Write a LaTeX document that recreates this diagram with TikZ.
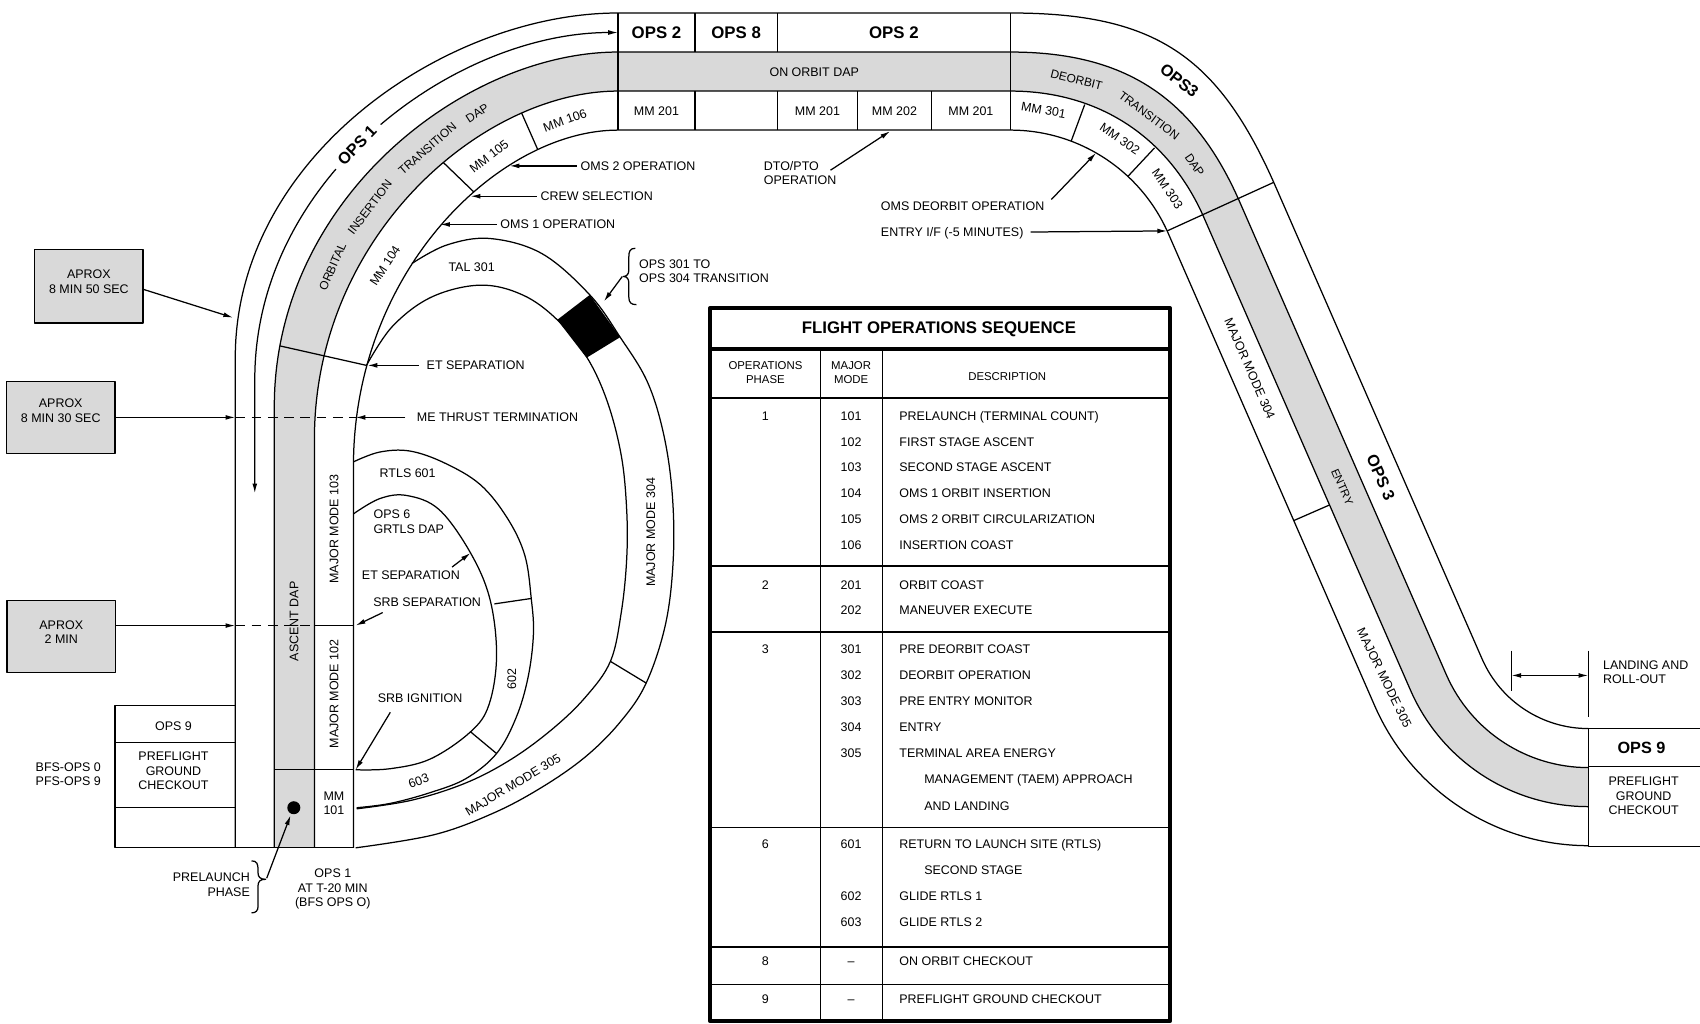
\documentclass[tikz,border=0pt]{standalone}
\usepackage{fontspec}
\setmainfont{Liberation Sans}
\usetikzlibrary{arrows.meta}
\definecolor{bandgray}{gray}{0.85}
\begin{document}
\begin{tikzpicture}[x=1pt,y=-1pt, line width=1.15pt, line join=round,
  lab/.style={font=\fontsize{11.5}{13.5}\selectfont, inner sep=0pt, align=center},
  labl/.style={font=\fontsize{11.5}{13.5}\selectfont, inner sep=0pt, align=left},
  lab1/.style={font=\fontsize{11.5}{13.5}\selectfont, inner sep=0pt, text height=8.3pt, text depth=0pt},
  band/.style={font=\fontsize{11}{12}\selectfont, inner sep=0pt, text height=8pt, text depth=0pt},
  big/.style={font=\fontsize{15.5}{17}\selectfont\bfseries, inner sep=0pt, text height=11.2pt, text depth=0pt},
  arr/.style={-{Latex[length=9pt,width=4.5pt]}},
  dsh/.style={dash pattern=on 9pt off 6pt},
  aprox/.style={draw, fill=bandgray, minimum width=100pt, inner sep=0pt}]
\useasboundingbox (0,0) rectangle (1568,944);

% ---------------- gray DAP band ----------------
\fill[bandgray] (253,782) -- (253,375) .. controls (253,184) and (428.3,48) .. (570,48) -- (932,48) .. controls (1037.5,48) and (1101.3,89.7) .. (1143.5,186.4) -- (1334.0,622.3) .. controls (1356.8,674.4) and (1408.2,708) .. (1465,708) -- (1465,744) .. controls (1393.8,744) and (1329.5,701.9) .. (1301.0,636.7) -- (1110.5,200.8) .. controls (1077.9,126.3) and (1013.3,84) .. (932,84) -- (570,84) .. controls (444.8,84) and (290,217.5) .. (290,405) -- (290,782) -- cycle;

% ---------------- track lines ----------------
\draw (217,782) -- (217,330) .. controls (217,144.3) and (412.2,12) .. (570,12) -- (932,12) .. controls (1064.6,12) and (1123.4,50.5) .. (1176.5,172.0) -- (1367.0,607.8) .. controls (1384.0,646.8) and (1422.5,672) .. (1465,672);
\draw (253,782) -- (253,375) .. controls (253,184) and (428.3,48) .. (570,48) -- (932,48) .. controls (1037.5,48) and (1101.3,89.7) .. (1143.5,186.4) -- (1334.0,622.3) .. controls (1356.8,674.4) and (1408.2,708) .. (1465,708);
\draw (290,782) -- (290,405) .. controls (290,217.5) and (444.8,84) .. (570,84) -- (932,84) .. controls (1013.3,84) and (1077.9,126.3) .. (1110.5,200.8) -- (1301.0,636.7) .. controls (1329.5,701.9) and (1393.8,744) .. (1465,744);
\draw (326,782) -- (326,430) .. controls (326,249) and (461,120) .. (570,120) -- (932,120) .. controls (995.1,120) and (1052.2,157.4) .. (1077.5,215.2) -- (1268.0,651.1) .. controls (1302.2,729.4) and (1379.5,780) .. (1465,780);

% OPS 1 arrow line
\draw[{Latex[length=9pt,width=4.5pt]}-{Latex[length=9pt,width=4.5pt]}] (235,455) -- (235,350) .. controls (235,163.1) and (420.3,30) .. (570,30);

% top box
\draw (570,12) -- (570,120) (932,12) -- (932,120);
\draw (641,12) -- (641,48) (717,12) -- (717,48);
\draw (641,84) -- (641,120) (717,84) -- (717,120) (791,84) -- (791,120) (859,84) -- (859,120);

% dividers on the left
\draw (258,319) -- (338,337);
\draw (290,577) -- (326,577);
\draw (253,710) -- (326,710);
\draw (409,150) -- (437,177);
\draw (481,104) -- (496,138);
% dividers on the right
\draw (988,130.2) -- (1000.5,96.4);
\draw (1040.3,162.7) -- (1064.9,136.4);
\draw (1076.5,213) -- (1174.8,168.2);
\draw (1193.2,480.2) -- (1226.2,465.8);

% left OPS 9 box and base line
\draw (106,651) rectangle (217,782);
\draw (106,685) -- (217,685) (106,745) -- (217,745);
\draw (106,782) -- (326,782);
\node[lab] (ops9l) at (160,670) {OPS 9};
\node[lab] (pgcl) at (160,711) {PREFLIGHT\\GROUND\\CHECKOUT};
\node[lab] (bfs) at (63,714) {BFS-OPS 0\\PFS-OPS 9};

% right OPS 9 box
\draw (1568,672) -- (1465,672) -- (1465,781) -- (1568,781);
\draw (1465,707) -- (1568,707);
\node[big, font=\fontsize{15}{17}\selectfont\bfseries] (ops9r) at (1514,689) {OPS 9};
\node[lab] (pgcr) at (1516,734) {PREFLIGHT\\GROUND\\CHECKOUT};
% landing and roll-out
\draw (1394,600) -- (1394,637);
\draw (1465,600) -- (1465,661);
\draw[{Latex[length=9pt,width=4.5pt]}-{Latex[length=9pt,width=4.5pt]}] (1394,623) -- (1465,623);
\node[labl, anchor=west] (land) at (1478,620) {LANDING AND\\ROLL-OUT};

% ---------------- inner loops ----------------
\draw plot[smooth, tension=0.6] coordinates {(380,243) (412,226) (452,220) (500,234) (544,272) (572,311) (597,352) (612,400) (620,455) (621,515) (614,575) (596,630) (572,666) (540,698) (500,726) (455,750) (400,770) (328,782)};
\draw plot[smooth, tension=0.6] coordinates {(338,337) (362,301) (398,274) (443,263) (482,272) (514,295) (541,329) (560,370) (573,420) (578,470) (578,516) (573,565) (563,610) (540,643) (510,672) (472,700) (430,722) (380,738) (329,746)};
\draw plot[smooth, tension=0.6] coordinates {(326,426) (350,417) (378,416) (410,427) (443,447) (468,478) (484,512) (490,552) (492,585) (487,625) (476,662) (458,695) (430,718) (397,731) (360,741) (329,745)};
\draw plot[smooth, tension=0.6] coordinates {(326,474) (350,460) (375,457) (405,470) (434,510) (452,553) (458,605) (451,650) (434,675) (397,700) (360,709) (328,710)};
\draw (456,557) -- (490,552);
\draw (434,675) -- (458,695);
\draw (563,610) -- (596,630);
\fill (514,295) -- (544,272) -- (572,311) -- (541,330) -- cycle;

% prelaunch dot
\fill (271,745) circle (6);

% ---------------- APROX boxes ----------------
\node[aprox, minimum height=68pt] (ap1) at (82,264) {};
\node[lab] (ap1t) at (82,260) {APROX\\8 MIN 50 SEC};
\node[aprox, minimum height=66pt] (ap2) at (56,385) {};
\node[lab] (ap2t) at (56,379) {APROX\\8 MIN 30 SEC};
\node[aprox, minimum height=66pt] (ap3) at (56.5,587) {};
\node[lab] (ap3t) at (56.5,583) {APROX\\2 MIN};
\coordinate (t50) at (215,293);
\coordinate (t30) at (217,385);
\coordinate (t2m) at (217,577);
\draw[arr] ([yshift=-3pt]ap1.east) -- (t50);
\draw[arr] (ap2.east) -- (t30);
\draw[arr] ([yshift=10pt]ap3.east) -- (t2m);
\draw[dsh] (t30) -- (328,385);
\draw[dsh] (t2m) -- (290,577);

% ---------------- track labels ----------------
\node[big, font=\fontsize{15}{17}\selectfont\bfseries, fill=white, rotate=46, minimum width=58pt, minimum height=13pt] (ops1) at (329,134) {OPS 1};
\node[band, rotate=66] (w1) at (306.5,246) {ORBITAL};
\node[band, rotate=53] (w2) at (341,191) {INSERTION};
\node[band, rotate=41] (w3) at (394,137) {TRANSITION};
\node[band, rotate=33] (w4) at (440,104) {DAP};
\node[band, rotate=-14] (w5) at (993,73.5) {DEORBIT};
\node[band, rotate=-37] (w6) at (1060,106.5) {TRANSITION};
\node[band, rotate=-56] (w7) at (1102,152) {DAP};
\node[lab1, rotate=90] (ascdap) at (271,573) {ASCENT DAP};
\node[lab1, rotate=90] (mm103) at (308,488) {MAJOR MODE 103};
\node[lab1, rotate=90] (mm102) at (308,640) {MAJOR MODE 102};
\node[lab] (mm101) at (308,741) {MM\\101};
\node[lab1, rotate=57] (mm104) at (355,245) {MM 104};
\node[lab1, rotate=38] (mm105) at (451,144) {MM 105};
\node[lab1, rotate=20] (mm106) at (521,111) {MM 106};
\node[big] (o2a) at (605.5,30) {OPS 2};
\node[big] (o8) at (679,30) {OPS 8};
\node[big] (o2b) at (824.5,30) {OPS 2};
\node[lab1] (onorb) at (751,66) {ON ORBIT DAP};
\node[lab1] (mm201a) at (605.5,102) {MM 201};
\node[lab1] (mm201b) at (754,102) {MM 201};
\node[lab1] (mm202) at (825,102) {MM 202};
\node[lab1] (mm201c) at (895.5,102) {MM 201};
\node[lab1, rotate=-10] (mm301) at (962.6,101.5) {MM 301};
\node[lab1, rotate=-34] (mm302) at (1033,128) {MM 302};
\node[lab1, rotate=-56] (mm303) at (1077,174) {MM 303};
\node[big, font=\fontsize{15}{17}\selectfont\bfseries, rotate=-38] (ops3a) at (1088,74) {OPS3};
\node[lab1, rotate=-66.4] (mm304d) at (1153,340) {MAJOR MODE 304};
\node[big, font=\fontsize{15}{17}\selectfont\bfseries, rotate=-66.4] (ops3b) at (1274,440) {OPS 3};
\node[lab1, font=\fontsize{10.5}{12}\selectfont, rotate=-66.4] (entry) at (1238.5,449) {ENTRY};
\node[lab1, rotate=-64] (mm305d) at (1277,625) {MAJOR MODE 305};

% loop labels
\node[lab1] (tal) at (435,246) {TAL 301};
\node[lab1] (rtls) at (376,436) {RTLS 601};
\node[labl, anchor=west] (grtls) at (344,481) {OPS 6\\GRTLS DAP};
\node[lab1, rotate=90] (mm304l) at (600,491) {MAJOR MODE 304};
\node[lab1, rotate=90] (n602) at (472,626) {602};
\node[lab1, rotate=20] (n603) at (386,720) {603};
\node[lab1, rotate=31] (mm305l) at (473,724) {MAJOR MODE 305};

% ---------------- event labels and arrows ----------------
\node[lab1, anchor=west] (me) at (384,385) {ME THRUST TERMINATION};
\coordinate (meT) at (328,385);
\draw[arr] ([xshift=-10pt]me.west) -- (meT);
\node[lab1, anchor=west] (ets) at (393,337) {ET SEPARATION};
\coordinate (etsT) at (339,337);
\draw[arr] ([xshift=-7pt]ets.west) -- (etsT);
\node[lab1, anchor=west] (oms1) at (461,207) {OMS 1 OPERATION};
\coordinate (oms1T) at (406,207);
\draw[arr] ([xshift=-3pt]oms1.west) -- (oms1T);
\node[lab1, anchor=west] (crew) at (498,181) {CREW SELECTION};
\coordinate (crewT) at (434,181);
\draw[arr] ([xshift=-3pt]crew.west) -- (crewT);
\node[lab1, anchor=west] (oms2) at (535,153) {OMS 2 OPERATION};
\coordinate (oms2T) at (470,153);
\draw[arr] ([xshift=-3pt]oms2.west) -- (oms2T);
\node[labl, anchor=west] (dto) at (704,159.5) {DTO/PTO\\OPERATION};
\coordinate (dtoS) at (766,157);
\coordinate (dtoT) at (821,121);
\draw[arr] (dtoS) -- (dtoT);
\node[lab1, anchor=west] (omsd) at (812,190) {OMS DEORBIT OPERATION};
\coordinate (omsdT) at (1011,141);
\draw[arr] ([xshift=6pt,yshift=6pt]omsd.east) -- (omsdT);
\node[lab1, anchor=west] (entif) at (812,214) {ENTRY I/F (-5 MINUTES)};
\coordinate (entifT) at (1076.5,213);
\draw[arr] ([xshift=6pt]entif.east) -- (entifT);
\node[labl, anchor=west] (tr304) at (589,250) {OPS 301 TO\\OPS 304 TRANSITION};
\draw (586,229) .. controls (581,229) and (580,232) .. (580,237) -- (580,249) .. controls (580,253) and (578,255) .. (575,255) .. controls (578,255) and (580,257) .. (580,261) -- (580,274) .. controls (580,279) and (582,281) .. (587,281);
\coordinate (trS) at (574,255);
\coordinate (trT) at (557,278);
\draw[arr] (trS) -- (trT);

\node[lab1] (ets2) at (379,530) {ET SEPARATION};
\coordinate (ets2S) at (417,523);
\coordinate (ets2T) at (434,510);
\draw[arr] (ets2S) -- (ets2T);
\node[lab1] (srbs) at (394,555) {SRB SEPARATION};
\coordinate (srbsS) at (353,565);
\coordinate (srbsT) at (328,577);
\draw[arr] (srbsS) -- (srbsT);
\node[lab1] (srbi) at (387.5,644) {SRB IGNITION};
\coordinate (srbiS) at (360,657);
\coordinate (srbiT) at (328,710);
\draw[arr] (srbiS) -- (srbiT);

% prelaunch
\node[lab, anchor=east, align=right] (prel) at (231,816) {PRELAUNCH\\PHASE};
\draw (232,794) .. controls (237,794) and (238,797) .. (238,802) -- (238,805) .. controls (238,809) and (240,811) .. (245,811) .. controls (240,811) and (238,813) .. (238,817) -- (238,836) .. controls (238,840) and (236,842) .. (232,842);
\coordinate (prelS) at (246,810);
\coordinate (dotT) at (268,752);
\draw[arr] (prelS) -- (dotT);
\node[lab] (ops1b) at (307,820) {OPS 1\\AT T-20 MIN\\(BFS OPS O)};

% ---------------- table ----------------
\draw[line width=3.5pt] (655,284) rectangle (1079,942);
\draw[line width=3pt] (655,322) -- (1079,322);
\draw (655,367) -- (1079,367);
\draw (756.5,322) -- (756.5,942) (814,322) -- (814,942);
\draw (655,522) -- (1079,522) (655,583) -- (1079,583) (655,763.5) -- (1079,763.5) (655,873.5) -- (1079,873.5) (655,908) -- (1079,908);
\node[big] (title) at (866,302) {FLIGHT OPERATIONS SEQUENCE};
\node[lab, font=\fontsize{10.5}{13}\selectfont] (hph) at (706,343.5) {OPERATIONS\\PHASE};
\node[lab, font=\fontsize{10.5}{13}\selectfont] (hmm) at (785,343.5) {MAJOR\\MODE};
\node[lab1, font=\fontsize{10.5}{13}\selectfont] (hds) at (929,347) {DESCRIPTION};
\node[lab1] (ph1) at (706,384) {1};
\node[lab1] (ph2) at (706,540) {2};
\node[lab1] (ph3) at (706,599) {3};
\node[lab1] (ph6) at (706,778) {6};
\node[lab1] (ph8) at (706,886.5) {8};
\node[lab1] (ph9) at (706,921.5) {9};
\foreach \y/\m/\d in {384/101/PRELAUNCH (TERMINAL COUNT), 407.5/102/FIRST STAGE ASCENT, 431/103/SECOND STAGE ASCENT, 455/104/OMS 1 ORBIT INSERTION, 479/105/OMS 2 ORBIT CIRCULARIZATION, 503/106/INSERTION COAST, 540/201/ORBIT COAST, 563/202/MANEUVER EXECUTE, 599/301/PRE DEORBIT COAST, 622.5/302/DEORBIT OPERATION, 646.5/303/PRE ENTRY MONITOR, 670.5/304/ENTRY, 694.5/305/TERMINAL AREA ENERGY, 778/601/RETURN TO LAUNCH SITE (RTLS), 826/602/GLIDE RTLS 1, 850/603/GLIDE RTLS 2}{
  \node[lab1] (mode\m) at (785,\y) {\m};
  \node[lab1, anchor=west] (desc\m) at (829,\y) {\d};
}
\node[lab1, anchor=west] (desc305b) at (852,718.5) {MANAGEMENT (TAEM) APPROACH};
\node[lab1, anchor=west] (desc305c) at (852,743) {AND LANDING};
\node[lab1, anchor=west] (desc601b) at (852,802) {SECOND STAGE};
\node[lab1] (mode8) at (785,886.5) {–};
\node[lab1, anchor=west] (desc8) at (829,886.5) {ON ORBIT CHECKOUT};
\node[lab1] (mode9) at (785,921.5) {–};
\node[lab1, anchor=west] (desc9) at (829,921.5) {PREFLIGHT GROUND CHECKOUT};
\end{tikzpicture}
\end{document}
